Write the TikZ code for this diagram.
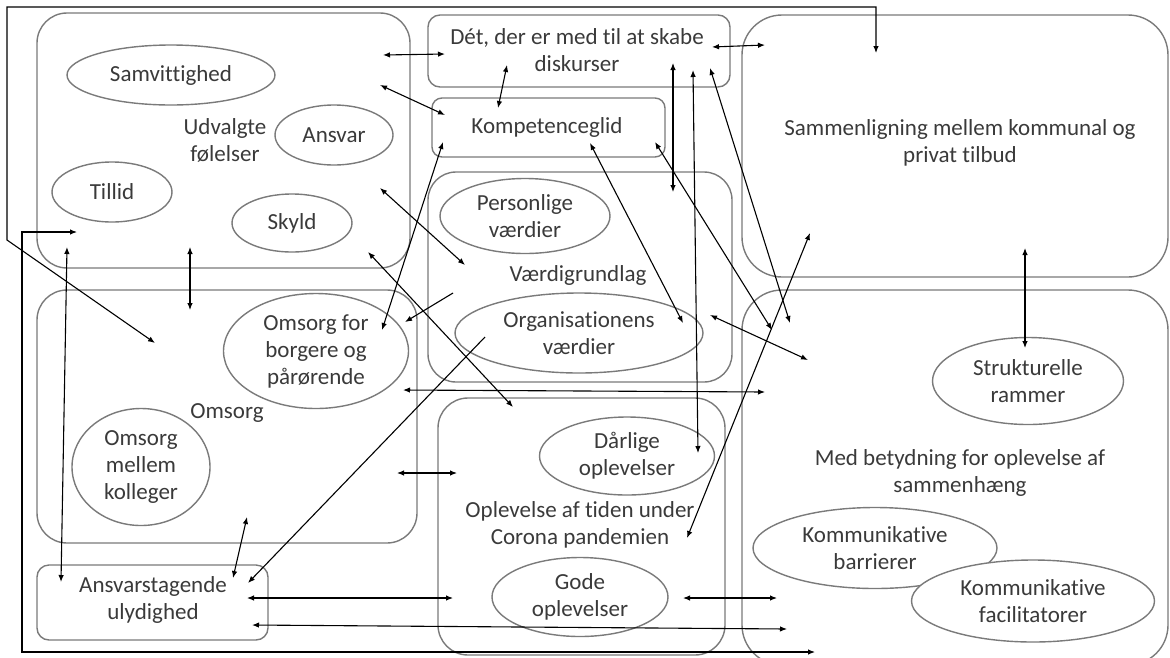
\documentclass[tikz,border=0pt]{standalone}
\usepackage{fontspec}
\setmainfont{Carlito}[Ligatures=NoCommon]
\usetikzlibrary{shapes.geometric,arrows.meta}
\definecolor{boxgray}{HTML}{7A7A7A}
\definecolor{txt}{HTML}{3A3A3A}
\tikzset{
  frame/.style={draw=boxgray, line width=1.4pt, rounded corners=#1, inner sep=0pt},
  frame/.default=30pt,
  oval/.style={ellipse, draw=boxgray, line width=1.4pt, fill=white, inner sep=0pt, align=center, text=txt},
  lbl/.style={align=center, text=txt, inner sep=0pt},
}
\begin{document}
\begin{tikzpicture}[x=1pt, y=-1pt, >={Latex[length=7pt,width=5.5pt]},
    font=\fontsize{23}{27}\selectfont]
  \useasboundingbox (0,0) rectangle (1170,657);
  % themes
  \node[frame, minimum width=373, minimum height=255] (udv) at (223.5,140.5) {};
  \node[frame=12pt, minimum width=302, minimum height=72] (disk) at (579,51) {};
  \node[frame=10pt, minimum width=233, minimum height=59] (komp) at (548.5,127.5) {};
  \node[frame=28pt, minimum width=304, minimum height=210] (vaer) at (580,277) {};
  \node[frame, minimum width=380, minimum height=253] (oms) at (227,416.5) {};
  \node[frame=12pt, minimum width=231, minimum height=75] (ansv) at (152.5,602.5) {};
  \node[frame, minimum width=287, minimum height=257] (opl) at (581.5,526.5) {};
  \node[frame=40pt, minimum width=426, minimum height=262] (samm) at (955,146) {};
  \node[frame=40pt, minimum width=426, minimum height=375] (medb) at (955,477.5) {};
  % sub-themes
  \node[oval, minimum width=208, minimum height=60] (samv) at (171,75) {Samvittighed};
  \node[oval, minimum width=118, minimum height=60] (ansvar) at (334,135) {Ansvar};
  \node[oval, minimum width=120, minimum height=60] (tillid) at (112,192) {Tillid};
  \node[oval, minimum width=120, minimum height=58] (skyld) at (292,223) {Skyld};
  \node[oval, minimum width=170, minimum height=75] (pers) at (525,216) {Personlige\\værdier};
  \node[oval, minimum width=248, minimum height=80] (org) at (579,333) {Organisationens\\værdier};
  \node[oval, minimum width=185, minimum height=115] (omsb) at (316,351) {Omsorg for\\borgere og\\pårørende};
  \node[oval, minimum width=138, minimum height=117] (omsk) at (141,467) {Omsorg\\mellem\\kolleger};
  \node[oval, minimum width=175, minimum height=78] (darl) at (627,456) {Dårlige\\oplevelser};
  \node[oval, minimum width=176, minimum height=79] (gode) at (580,597) {Gode\\oplevelser};
  \node[oval, minimum width=191, minimum height=87] (strk) at (1028,381) {Strukturelle\\rammer};
  \node[oval, minimum width=244, minimum height=81] (kbar) at (875,548) {Kommunikative\\barrierer};
  \node[oval, minimum width=243, minimum height=82] (kfac) at (1033,601) {Kommunikative\\facilitatorer};
  % theme titles
  \node[lbl] (udvT) at (225,140) {Udvalgte\\følelser};
  \node[lbl] (diskT) at (577,50) {Dét, der er med til at skabe\\diskurser};
  \node[lbl] (kompT) at (547,127) {Kompetenceglid};
  \node[lbl] (vaerT) at (578,275) {Værdigrundlag};
  \node[lbl] (omsT) at (227,413) {Omsorg};
  \node[lbl] (ansvT) at (153,600) {Ansvarstagende\\ulydighed};
  \node[lbl] (oplT) at (580,525) {Oplevelse af tiden under\\Corona pandemien};
  \node[lbl] (sammT) at (960,143) {Sammenligning mellem kommunal og\\privat tilbud};
  \node[lbl] (medbT) at (960,473) {Med betydning for oplevelse af\\sammenhæng};
  % arrow ends
  \coordinate (udv1) at (383,55);   \coordinate (disk1) at (445,54);
  \coordinate (udv2) at (380,85);   \coordinate (komp1) at (445,115);
  \coordinate (udv3) at (380,188);  \coordinate (vaer1) at (465,265);
  \coordinate (udv4) at (368,252);  \coordinate (opl1) at (513,407);
  \coordinate (udv5) at (190,247);  \coordinate (oms1) at (190,310);
  \coordinate (udv6) at (67,247);   \coordinate (ansv1) at (61,582);
  \coordinate (udv7) at (77,232);   \coordinate (medb1) at (815,652);
  \coordinate (disk2) at (507,65);  \coordinate (komp2) at (498,108);
  \coordinate (disk3) at (712,47);  \coordinate (samm1) at (765,45);
  \coordinate (disk4) at (673,63);  \coordinate (vaer2) at (673,192);
  \coordinate (disk5) at (693,70);  \coordinate (darl1) at (698,453);
  \coordinate (disk6) at (710,68);  \coordinate (medb2) at (790,323);
  \coordinate (komp3) at (655,142); \coordinate (medb3) at (772,330);
  \coordinate (komp4) at (590,143); \coordinate (org1) at (683,323);
  \coordinate (komp5) at (443,142); \coordinate (omsb1) at (382,330);
  \coordinate (vaer3) at (453,293); \coordinate (omsb2) at (405,322);
  \coordinate (vaer4) at (710,315); \coordinate (medb4) at (808,360);
  \coordinate (org2) at (485,337);  \coordinate (ansv2) at (248,583);
  \coordinate (omsb3) at (403,390); \coordinate (medb5) at (765,392);
  \coordinate (oms2) at (397,473);  \coordinate (opl2) at (457,473);
  \coordinate (oms3) at (247,517);  \coordinate (ansv3) at (233,578);
  \coordinate (oms4) at (155,343);  \coordinate (samm2) at (876,53);
  \coordinate (ansv4) at (247,598); \coordinate (opl3) at (453,598);
  \coordinate (ansv5) at (252,625); \coordinate (medb6) at (787,629);
  \coordinate (gode1) at (683,598); \coordinate (medb7) at (777,598);
  \coordinate (samm3) at (810,233); \coordinate (opl4) at (687,538);
  \coordinate (samm4) at (1025,248); \coordinate (strk1) at (1025,348);
  \coordinate (loop1) at (22,232);
  \coordinate (loop2) at (7,240);
  \coordinate (loop3) at (7,7);
  \begin{scope}[<->, line width=1.1pt]
    \draw (udv1) to (disk1);
    \draw (udv2) to (komp1);
    \draw (udv3) to (vaer1);
    \draw (udv4) to (opl1);
    \draw (udv5) to (oms1);
    \draw (udv6) to (ansv1);
    \draw (udv7) -- (loop1) |- (medb1);
    \draw (disk2) to (komp2);
    \draw (disk3) to (samm1);
    \draw (disk4) to (vaer2);
    \draw (disk5) to (darl1);
    \draw (disk6) to (medb2);
    \draw (komp3) to (medb3);
    \draw (komp4) to (org1);
    \draw (komp5) to (omsb1);
    \draw[->] (vaer3) to (omsb2);
    \draw (vaer4) to (medb4);
    \draw[->] (org2) to (ansv2);
    \draw (omsb3) to (medb5);
    \draw (oms2) to (opl2);
    \draw (oms3) to (ansv3);
    \draw (oms4) -- (loop2) -- (loop3) -| (samm2);
    \draw (ansv4) to (opl3);
    \draw (ansv5) to (medb6);
    \draw (gode1) to (medb7);
    \draw (samm3) to (opl4);
    \draw (samm4) to (strk1);
  \end{scope}
\end{tikzpicture}
\end{document}
